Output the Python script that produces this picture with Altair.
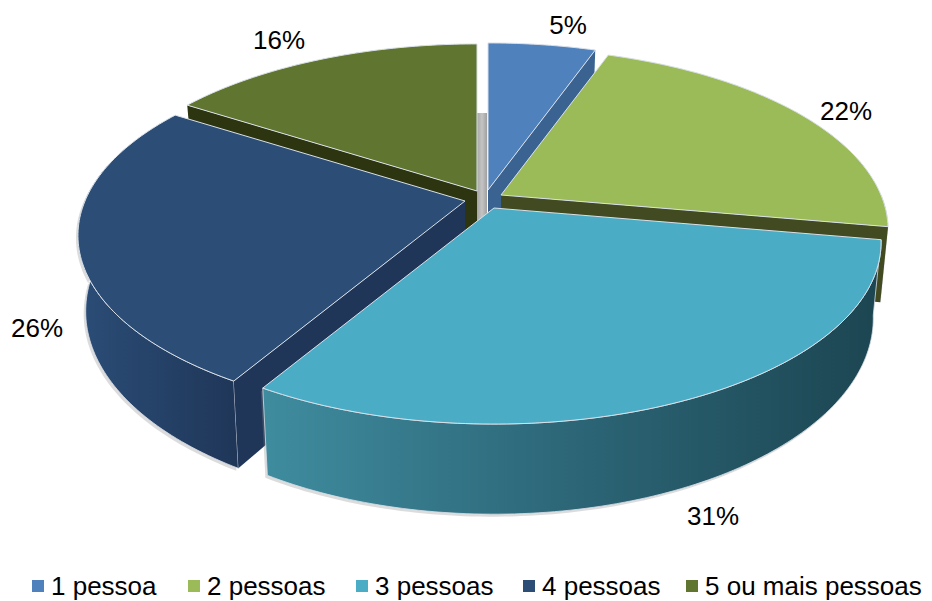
import math
import altair as alt

# ---- chart values ----
categories = ["1 pessoa", "2 pessoas", "3 pessoas", "4 pessoas", "5 ou mais pessoas"]
shares = [5.4, 22.4, 30.7, 25.6, 15.9]
labels = ["5%", "22%", "31%", "26%", "16%"]
top_colors = ["#4f81bd", "#9bbb59", "#4bacc6", "#2c4d75", "#5f7530"]

# ---- camera / layout (pixels of the page) ----
OX, OY = 8, 8
RX, RY, K, DEPTH = 380.0, 175.0, 0.19, 73.0
apexes = [(488, 190), (501, 195), (494, 208), (465, 201), (477, 191)]
end_faces = {0: "#3a6391", 1: "#414a20"}
start_faces = {3: "#1f3658", 4: "#2c3410"}
rim_grads = {
    1: ["#414a20", "#414a20"],
    2: ["#3f8c9f", "#2c6677", "#1c4551"],
    3: ["#2b4d77", "#1f3658"],
}
label_at = [(568, 26), (846, 112), (713, 517), (37, 329), (279, 41)]
legend_sym_x = [32, 188, 356, 523, 686]
LEGEND_Y, LEGEND_SYM, LEGEND_GAP = 586, 12, 7
EDGE = "#d9e0e8"

starts, c = [], 0.0
for s in shares:
    starts.append(c)
    c += s


def radial(deg):
    a = math.radians(deg)
    u, v = math.sin(a), -math.cos(a)
    w = 1 / (1 - K * v)
    return RX * u * w, RY * v * w, w


def top_pt(i, deg):
    x, y, _ = radial(deg)
    return apexes[i][0] + x, apexes[i][1] + y


def bot_pt(i, deg):
    x, y, w = radial(deg)
    return apexes[i][0] + 0.98 * x, apexes[i][1] + y + DEPTH * w


def arc(a, b):
    n = max(2, int(abs(b - a)) + 1)
    return [a + (b - a) * j / (n - 1) for j in range(n)]


def feat(points, name=None):
    ring = [[p[0] - OX, p[1] - OY] for p in points]
    ring.append(ring[0])
    return {"type": "Feature", "geometry": {"type": "Polygon", "coordinates": [ring]},
            "properties": {"grupo": name or ""}}


PROJ = dict(type="identity", scale=1, translate=[0, 0])


def shape(points, name=None, **mark):
    return alt.Chart(alt.Data(values=[feat(points, name)])).mark_geoshape(**mark).project(**PROJ)


def grad(cols):
    return alt.LinearGradient(
        gradient="linear", x1=0, x2=1, y1=0, y2=0,
        stops=[alt.GradientStop(offset=j / (len(cols) - 1), color=col) for j, col in enumerate(cols)],
    )


color_enc = alt.Color(
    "properties.grupo:N",
    scale=alt.Scale(domain=categories, range=top_colors),
    sort=categories,
    legend=None,
)

layers = []
# grey inner wall visible through the gap
layers.append(shape([(477, 113), (487, 113), (487, 216), (477, 222)],
                    fill=grad(["#a6a6a6", "#c4c4c4", "#a0a0a0"]), strokeWidth=0))

for i in [0, 4, 1, 3, 2]:
    a0 = starts[i] * 3.6
    a1 = (starts[i] + shares[i]) * 3.6
    A = apexes[i]
    A_low = (A[0], A[1] + DEPTH)
    # rim
    ra, rb = max(a0, 90), min(a1, 282)
    if i in rim_grads and rb > ra:
        degs = arc(ra, rb)
        rim = [top_pt(i, d) for d in degs] + [bot_pt(i, d) for d in reversed(degs)]
        if i != 1:
            shadow = [(p[0] - 2, p[1] + 2.5) for p in rim]
            layers.append(shape(shadow, fill="#8c8c8c", opacity=0.3, strokeWidth=0))
        layers.append(shape(rim, fill=grad(rim_grads[i]), stroke=EDGE, strokeWidth=0.8))
    # cut faces
    if i in start_faces:
        layers.append(shape([A, top_pt(i, a0), bot_pt(i, a0), A_low], fill=start_faces[i], strokeWidth=0))
    if i in end_faces:
        layers.append(shape([A, top_pt(i, a1), bot_pt(i, a1), A_low], fill=end_faces[i], strokeWidth=0))
    # top face
    pts = [A] + [top_pt(i, d) for d in arc(a0, a1)]
    layers.append(
        shape(pts, categories[i], stroke=EDGE, strokeWidth=1).encode(color=color_enc)
    )

# value labels
label_rows = [{"lon": p[0] - OX, "lat": p[1] - OY, "t": t} for p, t in zip(label_at, labels)]
layers.append(
    alt.Chart(alt.Data(values=label_rows))
    .mark_text(font="Liberation Sans", fontSize=26, color="#000000", align="center", baseline="middle")
    .encode(longitude="lon:Q", latitude="lat:Q", text="t:N")
    .project(**PROJ)
)

# legend row
half = LEGEND_SYM / 2
for x, name in zip(legend_sym_x, categories):
    square = [(x, LEGEND_Y - half), (x + LEGEND_SYM, LEGEND_Y - half),
              (x + LEGEND_SYM, LEGEND_Y + half), (x, LEGEND_Y + half)]
    layers.append(shape(square, name, strokeWidth=0).encode(color=color_enc))
legend_rows = [{"lon": x + LEGEND_SYM + LEGEND_GAP - OX, "lat": LEGEND_Y + 1 - OY, "t": n}
               for x, n in zip(legend_sym_x, categories)]
layers.append(
    alt.Chart(alt.Data(values=legend_rows))
    .mark_text(font="Liberation Sans", fontSize=26, color="#000000", align="left", baseline="middle")
    .encode(longitude="lon:Q", latitude="lat:Q", text="t:N")
    .project(**PROJ)
)

chart = (
    alt.layer(*layers)
    .properties(width=916, height=592, padding=0, background="#ffffff",
                autosize=alt.AutoSizeParams(type="none"))
    .configure_view(stroke=None)
    .resolve_scale(color="shared")
)
chart.save("out.html", embed_options={"renderer": "svg", "actions": False})
